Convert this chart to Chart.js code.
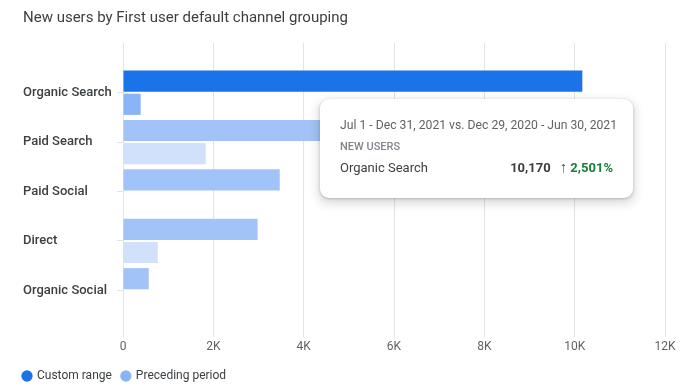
<!DOCTYPE html>
<html>
<head>
<meta charset="utf-8">
<script src="https://cdn.jsdelivr.net/npm/chart.js@4/dist/chart.umd.min.js"></script>
<style>
    html, body { margin: 0; padding: 0; background: #fff; }
    #wrap { position: relative; width: 695px; height: 392px; }
    #tooltip {
        position: absolute; left: 320px; top: 99px; width: 313px; height: 99px;
        box-sizing: border-box; padding: 17px 20px 0 20px;
        background: #fff; border-radius: 9px;
        box-shadow: 0 1px 3px rgba(60,64,67,0.3), 0 4px 8px 3px rgba(60,64,67,0.15);
        font-family: Roboto, sans-serif; color: #3c4043; white-space: nowrap;
    }
    #tooltip .range { font-size: 12.2px; color: #5f6368; line-height: 18px; }
    #tooltip .metric { font-size: 11px; font-weight: 500; color: #80868b; margin-top: 6px; line-height: 14px; }
    #tooltip .row { display: flex; justify-content: space-between; font-size: 13px; margin-top: 5px; line-height: 17px; }
    #tooltip .val { font-weight: 700; color: #3c4043; }
    #tooltip .chg { font-weight: 700; color: #188038; margin-left: 9px; }
    #tooltip .arrow { font-size: 15px; font-weight: 700; }
</style>
</head>
<body>
<div id="wrap">
    <canvas id="graph" width="695" height="392"></canvas>
    <div id="tooltip">
        <div class="range">Jul 1 - Dec 31, 2021 vs. Dec 29, 2020 - Jun 30, 2021</div>
        <div class="metric">NEW USERS</div>
        <div class="row"><span>Organic Search</span><span><span class="val">10,170</span><span class="chg"><span class="arrow">&#8593;</span> 2,501%</span></span></div>
    </div>
</div>
<script>
const TITLE = 'New users by First user default channel grouping';
const CHANNELS = ['Organic Search', 'Paid Search', 'Paid Social', 'Direct', 'Organic Social'];
const CUSTOM_RANGE = [10170, 4600, 3470, 2980, 570];
const PRECEDING_PERIOD = [391, 1830, 0, 770, 10];
const X_MAX = 12000;
const X_STEP = 2000;

const GRID = '#e3e3e3';
const TEXT = '#3c4043';

// first channel is the hovered one, the rest are faded
const customColors = CHANNELS.map((c, i) => i === 0 ? '#1a73e8' : '#a1c3f7');
const precedingColors = CHANNELS.map((c, i) => i === 0 ? '#8ab4f8' : '#d1e1fb');

function tickLabel(v) {
    return v === 0 ? '0' : (v / 1000) + 'K';
}

// pull legend back so the dots line up with the title
const legendShift = {
    id: 'legendShift',
    afterLayout(chart) {
        chart.legend.left -= 10;
    }
};

document.addEventListener('DOMContentLoaded', () => {
    const ctx = document.getElementById('graph').getContext('2d');
    new Chart(ctx, {
        type: 'bar',
        data: {
            labels: CHANNELS,
            datasets: [
                {
                    label: 'Custom range',
                    data: CUSTOM_RANGE,
                    backgroundColor: customColors,
                    categoryPercentage: 0.94,
                    barPercentage: 0.913
                },
                {
                    label: 'Preceding period',
                    data: PRECEDING_PERIOD,
                    backgroundColor: precedingColors,
                    categoryPercentage: 0.94,
                    barPercentage: 0.913
                }
            ]
        },
        plugins: [legendShift],
        options: {
            indexAxis: 'y',
            responsive: false,
            animation: false,
            events: [],
            layout: { padding: { left: 23, right: 30, top: 0, bottom: 0 } },
            plugins: {
                title: {
                    display: true,
                    text: TITLE,
                    align: 'start',
                    color: TEXT,
                    font: { family: 'Roboto', size: 15, weight: 'normal' },
                    padding: { top: 9, bottom: 16 }
                },
                legend: {
                    position: 'bottom',
                    align: 'start',
                    labels: {
                        usePointStyle: true,
                        pointStyle: 'circle',
                        boxWidth: 8,
                        boxHeight: 8,
                        padding: 10,
                        color: TEXT,
                        font: { family: 'Roboto', size: 12 }
                    }
                },
                tooltip: { enabled: false }
            },
            scales: {
                x: {
                    position: 'bottom',
                    min: 0,
                    max: X_MAX,
                    border: { display: false },
                    grid: { color: GRID, tickLength: 22 },
                    ticks: {
                        stepSize: X_STEP,
                        padding: 3,
                        color: '#5f6368',
                        font: { family: 'Roboto', size: 12 },
                        callback: tickLabel
                    },
                    afterFit: s => { s.height = 45; }
                },
                xTop: {
                    type: 'linear',
                    position: 'top',
                    min: 0,
                    max: X_MAX,
                    border: { display: false },
                    grid: { color: GRID, drawOnChartArea: false, tickLength: 25 },
                    ticks: { stepSize: X_STEP, display: false },
                    afterFit: s => { s.height = 25; }
                },
                y: {
                    border: { display: false },
                    grid: { color: GRID, drawOnChartArea: false, offset: false, tickLength: 6 },
                    ticks: {
                        crossAlign: 'far',
                        color: TEXT,
                        font: { family: 'Roboto', size: 13, weight: 500 }
                    },
                    afterFit: s => { s.width = 100; }
                }
            }
        }
    });
});
</script>
</body>
</html>
